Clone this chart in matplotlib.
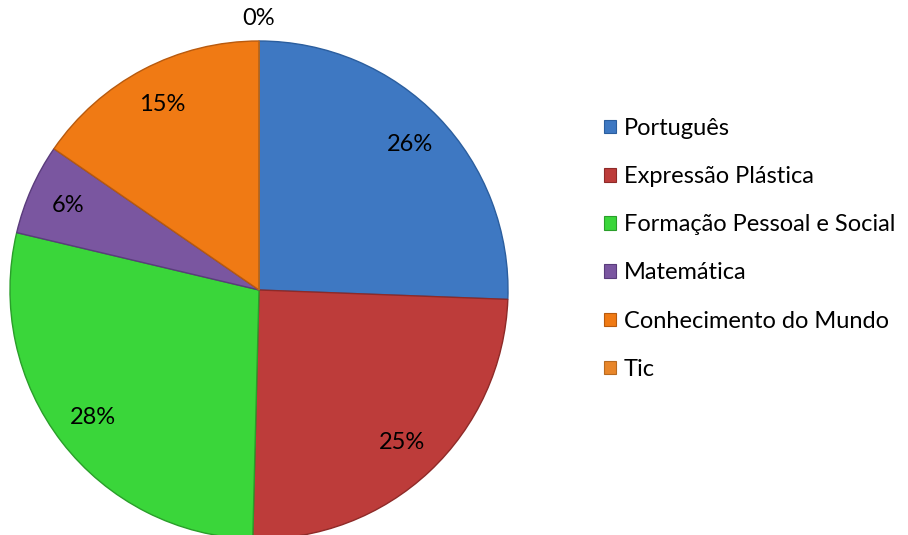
import matplotlib.pyplot as plt
from matplotlib.patches import Patch

# Subject shares (percent)
LABELS = ["Português", "Expressão Plástica", "Formação Pessoal e Social",
          "Matemática", "Conhecimento do Mundo", "Tic"]
VALUES = [25.6, 24.8, 28.3, 5.9, 15.4, 0]
COLORS = ["#3E78C2", "#BD3C3A", "#3AD63A", "#7A56A0", "#F07A14", "#E8862A"]
EDGES = ["#2B5E9E", "#8E2A28", "#2A9E2A", "#5A3C7C", "#B85A0E", "#B86A20"]

plt.rcParams['font.family'] = ['Lato', 'DejaVu Sans']
FS = 17

fig = plt.figure(figsize=(9.08, 5.35), dpi=100)
cx, cy, r = 259, 290, 249
ax = fig.add_axes([(cx - r) / 908, (535 - cy - r) / 535, 2 * r / 908, 2 * r / 535])

wedges, texts, autotexts = ax.pie(
    VALUES, colors=COLORS, startangle=90, counterclock=False,
    autopct=lambda p: f"{p:.0f}%", pctdistance=0.84, radius=1,
    wedgeprops=dict(linewidth=1.0),
    textprops=dict(fontsize=FS, color="black"))
for w, ec in zip(wedges, EDGES):
    w.set_edgecolor(ec)

# zero-valued slice label sits outside the pie
for v, t in zip(VALUES, autotexts):
    if v == 0:
        t.set_position((0, 1.09))

ax.set_xlim(-1, 1)
ax.set_ylim(-1, 1)
ax.set_aspect('equal')
ax.axis('off')

handles = [Patch(facecolor=c, edgecolor=e, linewidth=0.8) for c, e in zip(COLORS, EDGES)]
fig.legend(handles, LABELS, loc='upper left', bbox_to_anchor=(604 / 908, 1 - 118 / 535),
           frameon=False, fontsize=FS, handlelength=0.5, handleheight=0.5,
           handletextpad=0.35, labelspacing=1.15, borderpad=0, borderaxespad=0)

fig.savefig("out.png", dpi=100)
